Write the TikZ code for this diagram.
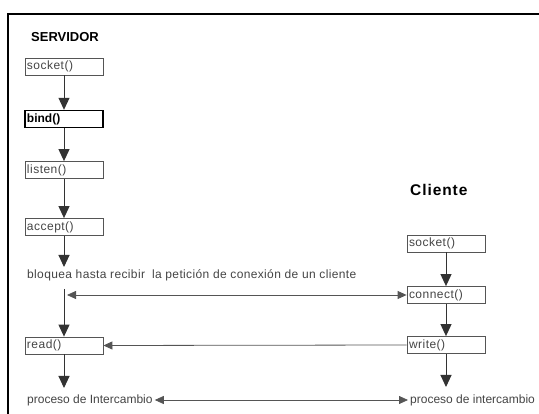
\documentclass[tikz,border=0pt]{standalone}
\usepackage{fontspec}
\setmainfont{Liberation Sans}
\usetikzlibrary{arrows.meta}
\definecolor{txtgray}{HTML}{444444}
\definecolor{linegray}{HTML}{555555}
\definecolor{headgray}{HTML}{333333}
\begin{document}
\begin{tikzpicture}[x=1pt,y=-1pt,
  fnbox/.style={draw=linegray,line width=0.8pt,minimum height=17pt,text width=74pt,inner sep=2pt,align=left,font=\fontsize{12}{12}\selectfont\addfontfeatures{LetterSpace=4},text=txtgray},
  boldbox/.style={fnbox,draw=black,line width=1.4pt,text=black,font=\fontsize{12}{12}\selectfont\bfseries},
  plain/.style={font=\fontsize{12}{12}\selectfont,text=txtgray,inner sep=2pt},
  widetext/.style={plain,font=\fontsize{12}{12}\selectfont\addfontfeatures{LetterSpace=3}},
  vflow/.style={draw=headgray,line width=1pt,-{Triangle[width=11pt,length=12pt]}},
  hmsg/.style={draw=linegray,line width=0.8pt,-{Triangle[width=8pt,length=9pt]}},
  hmsgboth/.style={draw=linegray,line width=0.8pt,{Triangle[width=8pt,length=9pt]}-{Triangle[width=8pt,length=9pt]}}
]
\useasboundingbox (0,0) rectangle (539,414);
% frame
\draw[line width=1.6pt] (8,414) coordinate (fbl) -- (8,14) coordinate (ftl) -- (539,14) coordinate (ftr);

% titles
\node[anchor=west,inner sep=0pt,font=\fontsize{13}{13}\selectfont\bfseries] (servidor) at (31,37) {SERVIDOR};
\node[anchor=west,inner sep=0pt,font=\fontsize{15.5}{15.5}\selectfont\bfseries\addfontfeatures{LetterSpace=6}] (cliente) at (410,190) {Cliente};

% server boxes
\node[fnbox] (ssock) at (64,66.5) {socket()};
\node[boldbox] (bind) at (64,119) {bind()};
\node[fnbox] (listen) at (64,170) {listen()};
\node[fnbox] (accept) at (64,227) {accept()};
\node[widetext,anchor=west] (bloq) at (25,275) {bloquea hasta recibir\hspace{7pt}la petición de conexión de un cliente};
\node[fnbox] (read) at (64,345.5) {read()};
\node[plain,anchor=west] (proc1) at (25,400) {proceso de Intercambio};

% client boxes
\node[fnbox] (csock) at (446,243.5) {socket()};
\node[fnbox] (connect) at (446,295) {connect()};
\node[fnbox] (write) at (446,345) {write()};
\node[plain,anchor=west] (proc2) at (408,400) {proceso de intercambio};

% coordinates
\coordinate (bloqin) at (64,267);
\coordinate (bloqout) at (64,289);
\coordinate (hconn) at (67,295);
\coordinate (proc1in) at (64,388);
\coordinate (proc2in) at (446,387);

% server flow
\draw[vflow] (ssock) -- (bind);
\draw[vflow] (bind) -- (listen);
\draw[vflow] (listen) -- (accept);
\draw[vflow] (accept) -- (bloqin);
\draw[vflow] (bloqout) -- (read);
\draw[vflow] (read) -- (proc1in);

% client flow
\draw[vflow] (csock) -- (connect);
\draw[vflow] (connect) -- (write);
\draw[vflow] (write) -- (proc2in);

% messages
\draw[hmsgboth] (hconn) -- (connect.west);
\draw[hmsg] (write.west) -- (read.east);
\draw[hmsgboth] (proc1.east) -- (proc2.west);
\end{tikzpicture}
\end{document}
